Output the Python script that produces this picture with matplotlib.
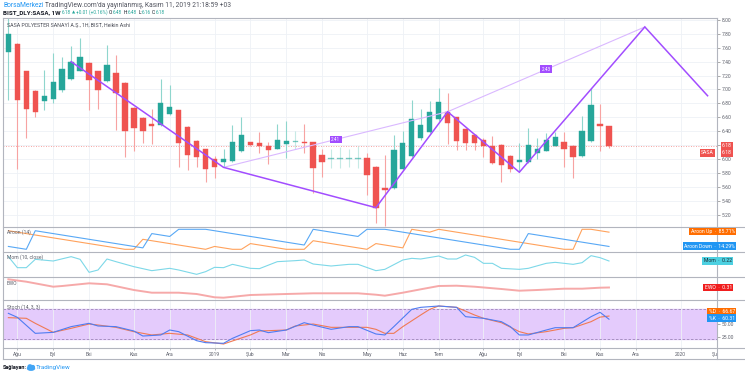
import numpy as np
import pandas as pd
import matplotlib
matplotlib.use("Agg")
import matplotlib.pyplot as plt
from matplotlib.lines import Line2D
from matplotlib.patches import Ellipse

plt.rcParams['font.family'] = ['Roboto', 'DejaVu Sans']

# ---------------- data (weekly Heikin Ashi candles, week 0 = 2018-07-30) ----------------
start_date = "2018-07-30"
opens = [7.54, 7.66, 7.26, 6.98, 6.83, 6.86, 6.99, 7.15, 7.27, 7.38, 7.26, 7.12, 7.24, 7.10, 6.74, 6.59,
         6.50, 6.49, 6.65, 6.70, 6.46, 6.26, 6.14, 6.00, 5.95, 5.97, 6.11, 6.24, 6.23, 6.19, 6.15, 6.22,
         6.25, 6.24, 6.24, 6.06, 6.00, 6.00, 6.00, 6.00, 6.01, 5.88, 5.59, 5.58, 5.85, 6.04, 6.30, 6.39,
         6.57, 6.68, 6.60, 6.43, 6.35, 6.28, 6.19, 6.20, 6.05, 5.95, 5.96, 6.08, 6.12, 6.19, 6.25, 6.19,
         6.04, 6.26, 6.51, 6.48]
closes = [7.80, 6.85, 6.72, 6.68, 6.91, 7.11, 7.30, 7.40, 7.47, 7.14, 6.99, 7.35, 6.95, 6.40, 6.44, 6.40,
          6.47, 6.81, 6.75, 6.23, 6.06, 6.03, 5.85, 5.89, 6.00, 6.24, 6.35, 6.20, 6.18, 6.13, 6.28, 6.26,
          6.26, 6.23, 5.87, 5.95, 6.01, 6.01, 6.01, 6.01, 5.77, 5.30, 5.55, 6.13, 6.23, 6.58, 6.49, 6.67,
          6.82, 6.52, 6.26, 6.23, 6.23, 6.18, 5.94, 5.91, 5.85, 5.99, 6.20, 6.14, 6.27, 6.32, 6.14, 6.03,
          6.41, 6.77, 6.47, 6.18]
highs = [8.05, 7.67, 7.27, 6.99, 7.28, 7.52, 7.47, 7.62, 7.74, 7.39, 7.27, 7.64, 7.49, 7.11, 6.75, 6.60,
         6.72, 7.15, 7.07, 6.71, 6.47, 6.27, 6.15, 6.04, 6.15, 6.49, 6.61, 6.25, 6.39, 6.25, 6.50, 6.54,
         6.40, 6.50, 6.25, 6.15, 6.15, 6.17, 6.15, 6.19, 6.08, 5.90, 6.06, 6.35, 6.40, 6.85, 6.72, 6.83,
         7.02, 6.95, 6.61, 6.45, 6.36, 6.30, 6.33, 6.22, 6.06, 6.23, 6.44, 6.30, 6.37, 6.39, 6.39, 6.20,
         6.62, 7.02, 6.79, 6.48]
lows = [6.85, 5.86, 6.30, 6.61, 6.70, 6.80, 6.96, 7.13, 7.26, 6.70, 6.72, 7.11, 6.42, 6.03, 6.12, 6.23,
        6.22, 6.48, 6.63, 5.89, 5.84, 5.89, 5.67, 5.72, 5.89, 5.96, 6.10, 6.18, 6.08, 5.93, 6.14, 6.01,
        6.15, 6.08, 5.51, 5.74, 5.87, 5.87, 5.89, 5.87, 5.48, 5.08, 5.03, 5.57, 5.84, 6.03, 6.28, 6.38,
        6.55, 6.22, 6.13, 6.13, 6.13, 6.03, 5.93, 5.67, 5.82, 5.81, 5.94, 6.00, 6.11, 6.18, 5.89, 5.72,
        6.03, 6.25, 6.11, 6.16]
last_price = 6.18

# harmonic-like pattern drawing (week index, price)
pattern_x = [7, 24, 41, 49, 57, 71, 78]
pattern_y = [7.40, 5.88, 5.30, 6.68, 5.81, 7.90, 6.91]
ratio_x = [24, 49, 71]
ratio_y = [5.88, 6.68, 7.90]
ratio_labels = ["2.41", "2.43"]

# Aroon (14)
aroon_up = [92.86, 85.71, 78.57, 71.43, 64.29, 57.14, 50.0, 42.86, 35.71, 28.57, 21.43, 14.29, 7.14, 0, 0,
            50.0, 42.86, 35.71, 28.57, 21.43, 14.29, 7.14, 0, 14.29, 7.14, 0, 0, 28.57, 21.43, 14.29, 7.14,
            0, 0, 0, 42.86, 35.71, 28.57, 21.43, 14.29, 7.14, 0, 28.57, 21.43, 14.29, 7.14, 100, 92.86,
            85.71, 100, 92.86, 85.71, 78.57, 71.43, 64.29, 57.14, 50.0, 42.86, 35.71, 28.57, 21.43, 14.29,
            7.14, 0, 0, 100, 100, 92.86, 85.71]
aroon_down = [14.29, 7.14, 0, 92.86, 85.71, 78.57, 71.43, 64.29, 57.14, 50.0, 42.86, 35.71, 28.57, 21.43,
              14.29, 7.14, 78.57, 71.43, 64.29, 100, 100, 100, 100, 92.86, 85.71, 78.57, 71.43, 64.29,
              57.14, 50.0, 42.86, 35.71, 28.57, 21.43, 100, 92.86, 85.71, 78.57, 71.43, 64.29, 100, 100,
              100, 92.86, 85.71, 78.57, 71.43, 64.29, 57.14, 50.0, 42.86, 35.71, 28.57, 21.43, 14.29, 7.14,
              0, 0, 78.57, 71.43, 64.29, 57.14, 50.0, 42.86, 35.71, 28.57, 21.43, 14.29]

# Momentum (10, close)
mom_x = [0, 1, 2, 3, 5, 7, 8, 9, 10, 11, 12, 14, 16, 18, 19, 21, 22, 23, 24, 25, 27, 28, 30, 32, 33, 34,
         36, 38, 39, 41, 42, 44, 45, 46, 48, 49, 50, 51, 52, 53, 54, 55, 57, 58, 60, 61, 63, 64, 65, 66, 67]
mom_y = [0.48, -0.18, -0.18, 0.32, 0.22, 0.48, 0.32, -0.46, -0.32, 0.34, 0.18, -0.12, -0.36, -0.22, -0.32,
         -0.58, -0.42, -0.16, -0.18, 0.02, -0.22, -0.24, 0.18, 0.24, 0.28, 0.04, -0.08, 0.02, 0.02, -0.36,
         -0.28, 0.28, 0.38, 0.34, 0.52, 0.34, 0.34, 0.58, 0.44, 0.08, 0.08, -0.22, -0.28, -0.22, 0.08, 0.14,
         0.02, 0.12, 0.54, 0.42, 0.22]

# Elliott Wave Oscillator
ewo_x = [0, 2, 5, 6, 9, 11, 14, 16, 19, 21, 23, 24, 27, 31, 34, 36, 39, 41, 42, 44, 46, 48, 50, 52, 55,
         57, 59, 62, 64, 66, 67]
ewo_y = [1.13, 0.89, 0.39, 0.46, 0.73, 0.63, 0.06, -0.21, -0.21, -0.34, -0.67, -0.71, -0.44, -0.34, -0.27,
         -0.27, -0.27, -0.41, -0.51, -0.21, 0.13, 0.46, 0.49, 0.39, 0.16, -0.01, 0.06, 0.19, 0.19, 0.29, 0.31]

# Stochastic (14, 3, 3)
stk_x = [0, 1, 3, 5, 7, 9, 10, 12, 14, 15, 17, 18, 19, 21, 22, 24, 25, 27, 28, 29, 31, 33, 34, 36, 38,
         39, 41, 42, 43, 45, 46, 48, 50, 51, 53, 55, 56, 57, 58, 60, 61, 63, 65, 66, 67]
stk_y = [72.1, 64.1, 31.8, 33.8, 45.3, 52.0, 46.6, 45.3, 36.5, 26.4, 28.5, 38.5, 35.2, 17.0, 13.0, 11.7,
         21.7, 37.2, 38.5, 33.2, 38.5, 53.3, 48.6, 39.9, 45.3, 45.3, 30.5, 28.5, 45.3, 80.2, 84.2, 86.9,
         84.2, 65.4, 62.1, 55.3, 45.3, 28.5, 28.5, 38.5, 43.2, 43.2, 65.4, 74.2, 60.31]
std_x = [0, 2, 3, 5, 7, 9, 10, 12, 14, 16, 18, 20, 22, 24, 25, 27, 28, 31, 32, 34, 36, 38, 40, 41, 42,
         43, 44, 46, 47, 48, 50, 52, 53, 55, 57, 58, 60, 62, 63, 65, 66, 67]
std_y = [63.4, 62.1, 52.0, 33.8, 41.9, 50.6, 48.6, 43.9, 35.2, 28.5, 31.8, 28.5, 15.0, 10.3, 16.4, 28.5,
         36.5, 38.5, 46.6, 50.6, 43.9, 43.9, 43.9, 39.9, 31.8, 31.8, 45.3, 68.8, 80.2, 86.9, 84.2, 68.8,
         62.1, 53.3, 35.2, 30.5, 35.2, 41.9, 43.2, 55.3, 64.5, 66.67]

month_labels = ['Ağu', 'Eyl', 'Eki', 'Kas', 'Ara', '2019', 'Şub', 'Mar', 'Nis', 'May', 'Haz', 'Tem',
                'Ağu', 'Eyl', 'Eki', 'Kas', 'Ara', '2020', 'Şub']
price_ticks = [5.2, 5.4, 5.6, 5.8, 6.0, 6.2, 6.4, 6.6, 6.8, 7.0, 7.2, 7.4, 7.6, 7.8, 8.0]
stoch_ticks = [25, 50]

# ---------------- layout ----------------
W, H = 745, 375
fig = plt.figure(figsize=(W / 100, H / 100), dpi=100)
fig.patch.set_facecolor('white')

XL, XR = 3, 717
XLIM = (-0.6, 79.05)


def ax_px(x0, y0, x1, y1):
    a = fig.add_axes([x0 / W, 1 - y1 / H, (x1 - x0) / W, (y1 - y0) / H])
    a.set_xlim(*XLIM)
    for s in a.spines.values():
        s.set_visible(False)
    a.set_facecolor('none')
    return a


def figline(x0, y0, x1, y1, color='#b2b5be', lw=0.8):
    fig.add_artist(Line2D([x0 / W, x1 / W], [1 - y0 / H, 1 - y1 / H], color=color, lw=lw,
                          transform=fig.transFigure))


def ftext(x, y, s, **kw):
    return fig.text(x / W, 1 - y / H, s, **kw)


start = pd.Timestamp(start_date)
months = pd.date_range('2018-08-01', periods=len(month_labels), freq='MS')
tick_idx = np.ceil((months - start).days.values / 7.0)

grid_c = '#eef1f6'
lab_c = '#5d606b'

# main price panel
ax = ax_px(XL, 18.3, XR, 227)
ax.set_ylim(5.022, 8.024)
for t in tick_idx:
    ax.axvline(t, color=grid_c, lw=0.6, zorder=0)
for p in price_ticks:
    ax.axhline(p, color=grid_c, lw=0.6, zorder=0)
ax.yaxis.tick_right()
ax.set_yticks(price_ticks)
# the tick label nearest the last price sits under the price box, as in the original
ax.set_yticklabels(['' if abs(p - last_price) < 0.05 else f"{p:.2f}" for p in price_ticks])
ax.tick_params(axis='y', length=2, width=0.5, pad=1.5, labelsize=3.6, colors='#888',
               labelcolor=lab_c)
ax.set_xticks([])

o = np.array(opens); c = np.array(closes); hi = np.array(highs); lo = np.array(lows)
idx = np.arange(len(o))
up = c >= o
tiny = np.abs(c - o) < 0.02
body_col = np.where(up, '#26a69a', '#ef5350')
wick_col = np.where(up, '#8fd6cd', '#f7a3a2')
for i in idx:
    a = 0.5 if (tiny[i] and up[i]) else 1.0
    ax.vlines(i, lo[i], hi[i], color=wick_col[i], lw=0.8, zorder=2, alpha=a)
    h = max(abs(c[i] - o[i]), 0.012)
    b = min(o[i], c[i]) if abs(c[i] - o[i]) >= 0.012 else (o[i] + c[i]) / 2 - 0.006
    ax.bar(i, h, bottom=b, width=0.6, color=body_col[i], edgecolor=body_col[i], lw=0.3,
           zorder=3, alpha=a)

ax.axhline(last_price, color='#ef5350', lw=0.6, ls=(0, (1, 2)), alpha=0.7, zorder=1)

ax.plot(ratio_x, ratio_y, color='#dab8ff', lw=0.8, zorder=4)
ax.plot(pattern_x, pattern_y, color='#a24dff', lw=1.1, zorder=5, solid_joinstyle='miter')
for k, lab in enumerate(ratio_labels):
    mx = (ratio_x[k] + ratio_x[k + 1]) / 2
    my = (ratio_y[k] + ratio_y[k + 1]) / 2
    ax.text(mx, my, lab, fontsize=3.3, color='white', ha='center', va='center', zorder=6,
            bbox=dict(boxstyle='square,pad=0.3', fc='#a24dff', ec='none'))

ax.text(0.005, 0.965, "SASA POLYESTER SANAYİ A.Ş., 1H, BIST, Heikin Ashi", transform=ax.transAxes,
        fontsize=3.8, color='#4a4d57', ha='left', va='center')

# Aroon
axa = ax_px(XL, 227, XR, 252)
axa.set_ylim(-13.5, 111.5)
axa.plot(idx, aroon_up, color='#ffa25c', lw=0.8)
axa.plot(idx, aroon_down, color='#58a8f5', lw=0.8)
axa.text(0.005, 0.78, "Aroon (14)", transform=axa.transAxes, fontsize=3.6, color=lab_c, va='center')

# Mom
axm = ax_px(XL, 252, XR, 277)
axm.set_ylim(-0.74, 0.76)
axm.plot(mom_x, mom_y, color='#7dd8e8', lw=0.8)
axm.text(0.005, 0.78, "Mom (10, close)", transform=axm.transAxes, fontsize=3.6, color=lab_c, va='center')

# EWO
axe = ax_px(XL, 277, XR, 300)
axe.set_ylim(-0.94, 1.36)
axe.plot(ewo_x, ewo_y, color='#f6a9a9', lw=1.4)
axe.text(0.005, 0.72, "EWO", transform=axe.transAxes, fontsize=3.6, color=lab_c, va='center')

# Stoch
axs = ax_px(XL, 300, XR, 348)
axs.set_ylim(2.25, 99)
axs.axhspan(20, 80, color='#e4cbfc', zorder=0)
axs.axhline(80, color='#9d86b8', lw=0.6, ls=(0, (3, 2)), zorder=1)
axs.axhline(20, color='#9d86b8', lw=0.6, ls=(0, (3, 2)), zorder=1)
axs.plot(std_x, std_y, color='#f07a55', lw=0.8, zorder=3)
axs.plot(stk_x, stk_y, color='#4f7cf2', lw=0.8, zorder=3)
axs.text(0.005, 0.86, "Stoch (14, 3, 3)", transform=axs.transAxes, fontsize=3.6, color=lab_c, va='center')
axs.yaxis.tick_right()
axs.set_yticks(stoch_ticks)
axs.set_yticklabels([f"{v:.2f}" for v in stoch_ticks])
axs.tick_params(axis='y', length=2, width=0.5, pad=1.5, labelsize=3.6, colors='#888', labelcolor=lab_c)

for a in (axa, axm, axe, axs):
    for t in tick_idx:
        a.axvline(t, color=grid_c, lw=0.6, zorder=0)
    a.set_xticks([])
for a in (axa, axm, axe):
    a.set_yticks([])

# time axis row
axt = ax_px(XL, 348, XR, 359)
axt.set_ylim(0, 1)
axt.set_xticks([]); axt.set_yticks([])
axt.vlines(tick_idx, 0.78, 1.0, color='#9598a1', lw=0.5)
for t, lab in zip(tick_idx, month_labels):
    axt.text(t, 0.42, lab, fontsize=3.6, color=lab_c, ha='center', va='center', clip_on=True)

# frame lines
for yy in (227, 252, 277, 300, 348, 359):
    figline(2.5, yy, 745, yy)
figline(2.5, 18.3, 717, 18.3)
figline(2.5, 18.3, 2.5, 359)
figline(716.8, 18.3, 716.8, 359)


# right-side value labels (right edge given in pixels)
def rlabel(xr, y, s, fc, size=3.7, tc='white'):
    ftext(xr - 1.2, y, s, fontsize=size, color=tc, ha='right', va='center',
          bbox=dict(boxstyle='square,pad=0.25', fc=fc, ec='none'), zorder=10)


rlabel(733, 145.3, f"{last_price:.2f}", '#ef5350')
rlabel(733, 152.9, f"{last_price:.2f}", '#ef5350')
rlabel(715, 152.9, "SASA", '#ef5350')
rlabel(736, 231.7, f"Aroon Up  ·  {aroon_up[-1]:.2f}%", '#ff6d00')
rlabel(736, 246.0, f"Aroon Down  ·  {aroon_down[-1]:.2f}%", '#2196f3')
rlabel(733, 261.0, f"Mom  ·  {mom_y[-1]:.2f}", '#4dd0e1', tc='#1c2b33')
rlabel(733, 287.5, f"EWO  ·  {ewo_y[-1]:.2f}", '#f01e1e')
rlabel(736, 311.4, f"%D  ·  {std_y[-1]:.2f}", '#ff6d00')
rlabel(736, 318.0, f"%K  ·  {stk_y[-1]:.2f}", '#2196f3')

# header
bg = fig.add_axes([0, 0, 1, 1], zorder=-5)
bg.axis('off')
bg.set_xlim(0, W); bg.set_ylim(H, 0)


def chain(x, y, parts):
    prev = None
    for s, col, w, gap, size in parts:
        if prev is None:
            prev = bg.text(x, y, s, fontsize=size, color=col, fontweight=w, ha='left', va='center')
        else:
            prev = bg.annotate(s, xy=(1, 0.5), xycoords=prev, xytext=(gap, 0), textcoords='offset points',
                               fontsize=size, color=col, fontweight=w, ha='left', va='center')
    return prev


green = '#26a69a'
dark = '#131722'
chain(3, 5.3, [("BorsaMerkezi", '#2196f3', 'normal', 0, 4.8),
               ("TradingView.com'da yayınlanmış, Kasım 11, 2019 21:18:59 +03", '#50535e', 'normal', 1.3, 4.8)])
s2 = 3.4
chain(3, 12.6, [("BIST_DLY:SASA, 1W", dark, 'bold', 0, 4.5), (f"{last_price:.2f}", green, 'normal', 1.0, s2),
                ("▲", green, 'normal', 0.6, 3.0), ("+0.01 (+0.16%)", green, 'normal', 0.5, s2),
                ("O:", dark, 'normal', 1.0, s2), (f"{opens[-1]:.2f}", green, 'normal', 0, s2),
                ("H:", dark, 'normal', 0.8, s2), (f"{highs[-1]:.2f}", green, 'normal', 0, s2),
                ("L:", dark, 'normal', 0.8, s2), (f"{lows[-1]:.2f}", green, 'normal', 0, s2),
                ("C:", dark, 'normal', 0.8, s2), (f"{closes[-1]:.2f}", green, 'normal', 0, s2)])

# footer
bg.text(3, 367.5, "Sağlayan:", fontsize=4.0, color=dark, fontweight='bold', ha='left', va='center')
bg.add_patch(Ellipse((31.0, 368.4), 7.0, 3.6, color='#42a5f5'))
bg.add_patch(Ellipse((30.0, 366.6), 3.8, 3.4, color='#42a5f5'))
bg.add_patch(Ellipse((32.8, 366.9), 3.0, 2.6, color='#42a5f5'))
bg.text(36, 367.5, "TradingView", fontsize=4.5, color='#2196f3', ha='left', va='center')

fig.savefig("out.png", dpi=100, facecolor='white')
